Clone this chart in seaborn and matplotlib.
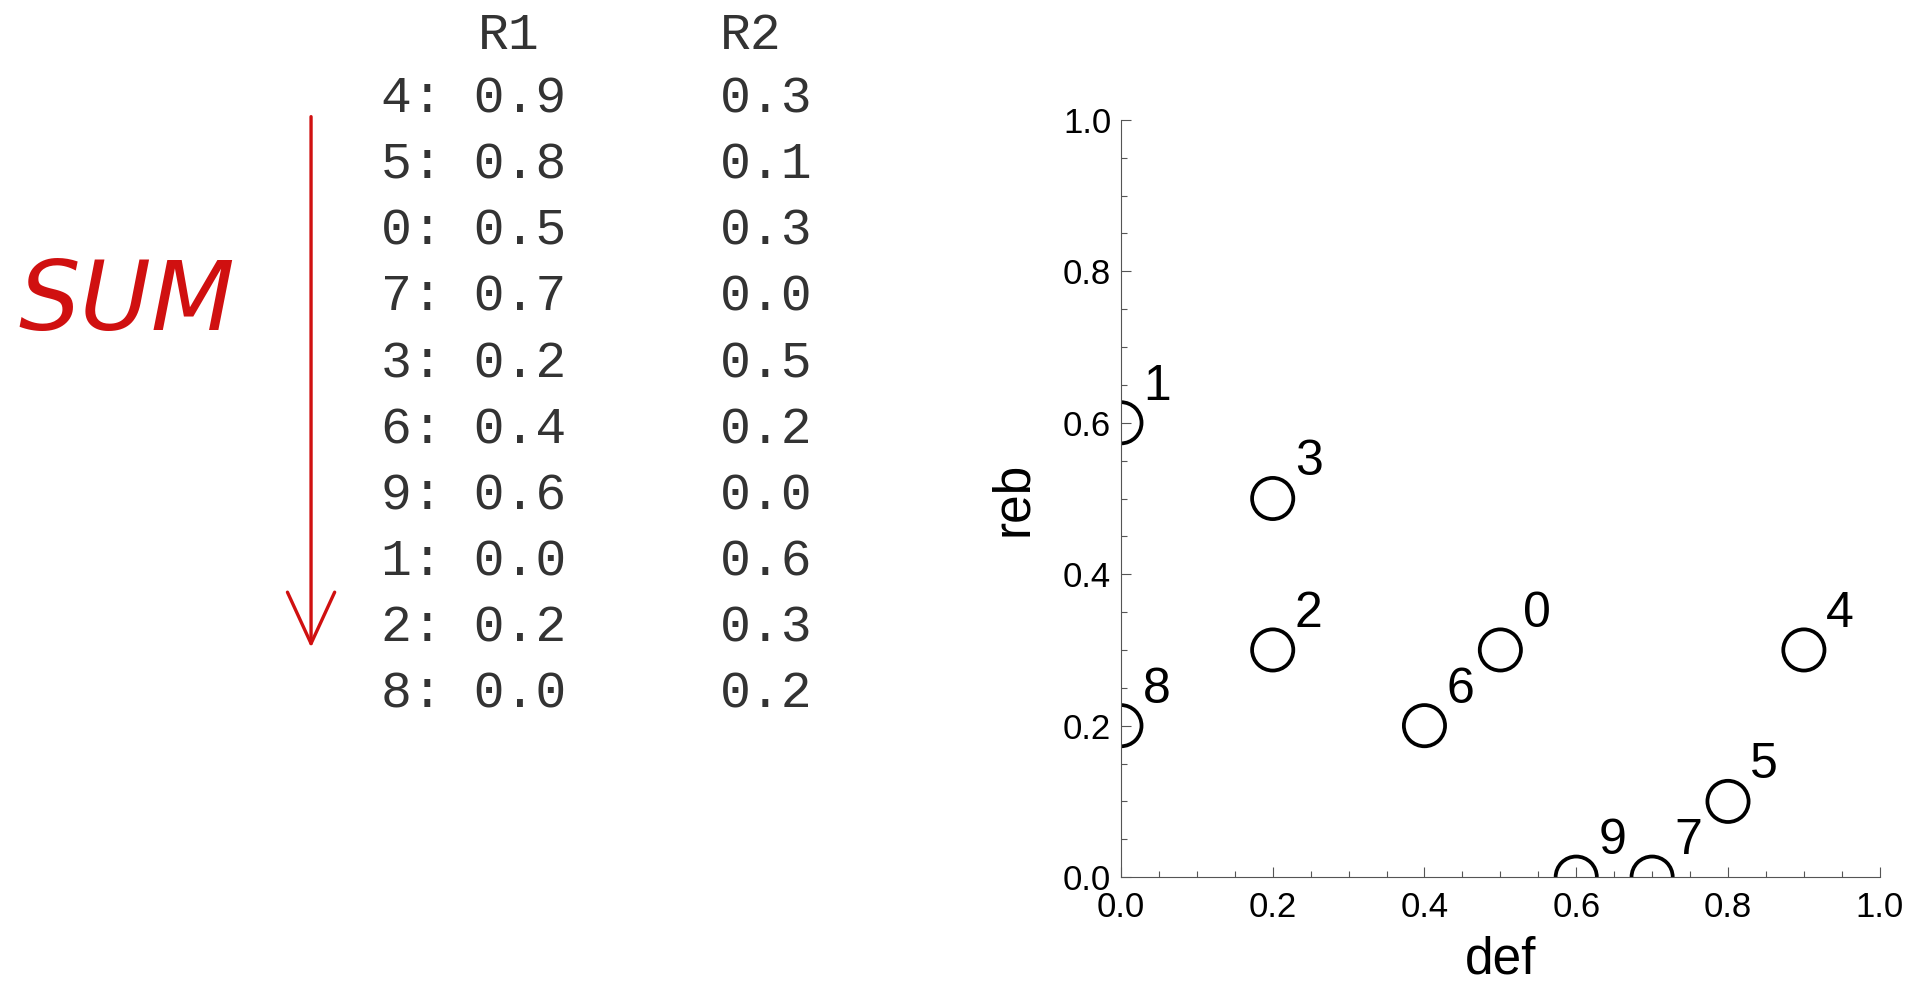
import matplotlib
matplotlib.use("Agg")
import matplotlib.pyplot as plt
import seaborn as sns
import pandas as pd
from matplotlib.ticker import MultipleLocator, AutoMinorLocator
from matplotlib.patches import FancyArrowPatch

# ids sorted by R1 + R2 (the "SUM" order of the table)
ids = [4, 5, 0, 7, 3, 6, 9, 1, 2, 8]
r1 = [0.9, 0.8, 0.5, 0.7, 0.2, 0.4, 0.6, 0.0, 0.2, 0.0]
r2 = [0.3, 0.1, 0.3, 0.0, 0.5, 0.2, 0.0, 0.6, 0.3, 0.2]
headers = ["R1", "R2"]


def draw_table(fig):
    """Writes the ranked R1/R2 table on the left side of the figure"""
    mono = "Liberation Mono"
    col_idx, col_r1, col_r2 = 0.198, 0.248, 0.374
    fig.text(col_r1, 0.951, headers[0], family=mono, fontsize=37,
             color="#333333", va="baseline")
    fig.text(col_r2, 0.951, headers[1], family=mono, fontsize=37,
             color="#333333", va="baseline")
    for i in range(len(ids)):
        y = 0.887 - i * 0.0661
        fig.text(col_idx, y, f"{ids[i]}: {r1[i]:.1f}", family=mono,
                 fontsize=37, color="#333333", va="baseline")
        fig.text(col_r2, y, f"{r2[i]:.1f}", family=mono, fontsize=37,
                 color="#333333", va="baseline")

    red = "#d01010"
    arrow = FancyArrowPatch((0.1615, 0.886), (0.1615, 0.349),
                            transform=fig.transFigure,
                            arrowstyle="->,head_length=0.37,head_width=0.17",
                            mutation_scale=100, color=red, lw=2.4)
    fig.add_artist(arrow)
    fig.text(0.066, 0.696, "SUM", color=red, fontsize=70,
             style="italic", family="DejaVu Sans", ha="center", va="center")


def plot(fig):
    """Scatter of def (R1) against reb (R2) with id labels"""
    df = pd.DataFrame({"id": ids, "def": r1, "reb": r2})
    ax = fig.add_axes([0.582, 0.122, 0.394, 0.758])
    sns.scatterplot(data=df, x="def", y="reb", ax=ax, s=880,
                    facecolor="none", edgecolor="black", linewidth=2.7,
                    legend=False)
    for i in range(len(ids)):
        ax.annotate(str(ids[i]), (r1[i], r2[i]),
                    xytext=(26, 26), textcoords="offset points",
                    ha="center", va="center", fontsize=36,
                    color="black", family="Liberation Sans")

    ax.set_xlim(0, 1)
    ax.set_ylim(0, 1)
    ax.xaxis.set_major_locator(MultipleLocator(0.2))
    ax.yaxis.set_major_locator(MultipleLocator(0.2))
    ax.xaxis.set_minor_locator(AutoMinorLocator(4))
    ax.yaxis.set_minor_locator(AutoMinorLocator(4))
    ax.tick_params(which="both", direction="in", color="#555555", width=0.8,
                   labelcolor="black")
    ax.tick_params(which="major", length=7, labelsize=25)
    ax.tick_params(axis="y", which="major", pad=7)
    ax.tick_params(axis="x", which="major", pad=10)
    ax.tick_params(which="minor", length=4.3)
    for lab in ax.get_xticklabels() + ax.get_yticklabels():
        lab.set_family("Liberation Sans")
    sns.despine(ax=ax)
    for side in ["left", "bottom"]:
        ax.spines[side].set_color("#555555")
        ax.spines[side].set_linewidth(0.8)

    ax.set_xlabel("def", fontsize=37, family="Liberation Sans", color="black")
    ax.set_ylabel("reb", fontsize=37, family="Liberation Sans", color="black")
    ax.xaxis.set_label_coords(0.5, -0.110)
    ax.yaxis.set_label_coords(-0.141, 0.5)
    ax.xaxis.label.set_va("center")
    ax.yaxis.label.set_va("center")


def main():
    sns.set_style("ticks")
    plt.rcParams["font.family"] = ["Liberation Sans", "DejaVu Sans"]
    fig = plt.figure(figsize=(19.26, 9.99), dpi=100)
    draw_table(fig)
    plot(fig)
    fig.savefig("out.png", dpi=100)


if __name__ == "__main__":
    main()
